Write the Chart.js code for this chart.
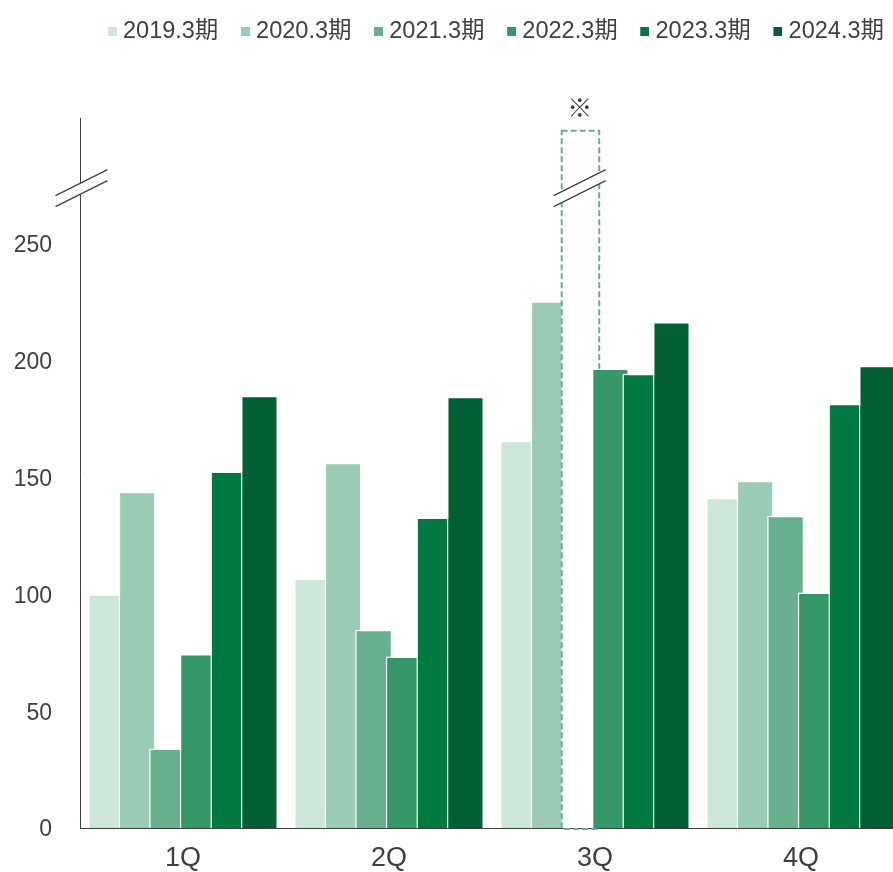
<!DOCTYPE html>
<html>
<head>
<meta charset="utf-8">
<script src="https://cdn.jsdelivr.net/npm/chart.js@4/dist/chart.umd.min.js"></script>
<style>
  html, body { margin: 0; padding: 0; overflow: hidden; background: #fff; }
</style>
</head>
<body>
<canvas id="grafica" width="904" height="872"></canvas>
<script>
// quarters
const quarters = ['1Q', '2Q', '3Q', '4Q'];

// one array per fiscal year
const fy2019 = [100.1, 106.8, 165.8, 141.4];
const fy2020 = [144, 156.4, 225.5, 148.7];
const fy2021 = [34, 84.9, 299, 133.7];   // 3Q is off the scale (broken bar)
const fy2022 = [74.5, 73.4, 196.7, 100.8];
const fy2023 = [152.6, 132.9, 194.5, 181.7];
const fy2024 = [185.1, 184.7, 216.7, 197.9];

const seriesNames = ['2019.3期', '2020.3期', '2021.3期', '2022.3期', '2023.3期', '2024.3期'];
const seriesValues = [fy2019, fy2020, fy2021, fy2022, fy2023, fy2024];
const COLORS = ['#cde6da', '#9acbb4', '#66b08e', '#359668', '#007a41', '#005f33'];

const yTicks = [0, 50, 100, 150, 200, 250];
const yMax = 304;
const breakValue = 274;
const brokenSeries = 2;   // 2021.3期
const brokenIndex = 2;    // 3Q

const TEXT = '#404040';
const FONT = "'Liberation Sans', 'Noto Sans CJK JP', sans-serif";

let datasets = seriesValues.map(function(vals, i){
	let bg = vals.map(function(v, j){
		return (i === brokenSeries && j === brokenIndex) ? '#ffffff' : COLORS[i];
	});
	return {
		label: seriesNames[i],
		data: vals,
		backgroundColor: bg,
		borderColor: '#ffffff',
		borderWidth: 1.5,
		categoryPercentage: 0.891,
		barPercentage: 1.21
	};
});

// legend square, drawn at the right end of a wider transparent canvas
function legendIcon(color){
	let c = document.createElement('canvas');
	c.width = 17;
	c.height = 9;
	let g = c.getContext('2d');
	g.fillStyle = color;
	g.fillRect(8, 0, 9, 9);
	return c;
}

// small double-slash used for the axis break
function drawBreak(ctx, cx, cy){
	let dx = 26, dy = 13, gap = 5.5;
	ctx.save();
	ctx.fillStyle = '#ffffff';
	ctx.beginPath();
	ctx.moveTo(cx - dx, cy + dy - gap);
	ctx.lineTo(cx + dx, cy - dy - gap);
	ctx.lineTo(cx + dx, cy - dy + gap);
	ctx.lineTo(cx - dx, cy + dy + gap);
	ctx.closePath();
	ctx.fill();
	ctx.strokeStyle = TEXT;
	ctx.lineWidth = 1.3;
	ctx.beginPath();
	ctx.moveTo(cx - dx, cy + dy - gap);
	ctx.lineTo(cx + dx, cy - dy - gap);
	ctx.moveTo(cx - dx, cy + dy + gap);
	ctx.lineTo(cx + dx, cy - dy + gap);
	ctx.stroke();
	ctx.restore();
}

function drawDashedBar(chart, meta){
	let el = meta.data[brokenIndex];
	let ctx = chart.ctx;
	ctx.save();
	ctx.setLineDash([6, 3]);
	ctx.strokeStyle = COLORS[brokenSeries];
	ctx.lineWidth = 2;
	ctx.strokeRect(el.x - el.width / 2 + 0.5, el.y + 1, el.width + 0.5, el.base - el.y);
	ctx.restore();
}

const drawOrder = {
	id: 'drawOrder',
	beforeLayout: function(chart){
		if (chart.legend && !chart.legend._patched) {
			let fit = chart.legend.fit;
			chart.legend.fit = function(){
				fit.call(this);
				this.height = 118;
			};
			chart.legend._patched = true;
		}
	},
	beforeDatasetsDraw: function(chart){
		let ctx = chart.ctx;
		// draw left to right so later years sit on top of earlier ones
		chart.getSortedVisibleDatasetMetas().forEach(function(meta){
			meta.controller.draw();
			if (meta.index === brokenSeries) drawDashedBar(chart, meta);
		});
		let y = chart.scales.y;
		let by = y.getPixelForValue(breakValue);
		drawBreak(ctx, y.right + 1.5, by);
		let el = chart.getDatasetMeta(brokenSeries).data[brokenIndex];
		drawBreak(ctx, el.x, by);
		ctx.save();
		ctx.fillStyle = TEXT;
		ctx.font = "25px 'Noto Sans CJK JP', sans-serif";
		ctx.textAlign = 'center';
		ctx.textBaseline = 'middle';
		ctx.fillText('※', el.x, el.y - 22);
		ctx.restore();
		return false;
	}
};

const ctx = document.getElementById('grafica').getContext('2d');
const myChart = new Chart(ctx, {
	type: 'bar',
	data: {
		labels: quarters,
		datasets: datasets
	},
	options: {
		responsive: false,
		animation: false,
		layout: { padding: 0 },
		plugins: {
			tooltip: { enabled: false },
			legend: {
				position: 'top',
				align: 'end',
				labels: {
					usePointStyle: true,
					boxWidth: 6,
					boxHeight: 9,
					padding: 20,
					color: TEXT,
					font: { family: FONT, size: 23.5 },
					generateLabels: function(chart){
						let items = Chart.defaults.plugins.legend.labels.generateLabels(chart);
						return items.map(function(item){
							item.pointStyle = legendIcon(COLORS[item.datasetIndex]);
							item.lineWidth = 0;
							return item;
						});
					}
				}
			}
		},
		scales: {
			x: {
				grid: { display: false, drawTicks: false },
				border: { display: true, color: TEXT, width: 1 },
				ticks: {
					color: TEXT,
					padding: 14,
					font: { family: FONT, size: 27 }
				},
				afterFit: function(s){ s.height = 44; }
			},
			y: {
				min: 0,
				max: yMax,
				grid: { display: false, drawTicks: false },
				border: { display: true, color: TEXT, width: 1 },
				ticks: {
					stepSize: 50,
					color: TEXT,
					padding: 28,
					labelOffset: 2,
					font: { family: FONT, size: 23 }
				},
				afterBuildTicks: function(s){
					s.ticks = yTicks.map(function(v){ return { value: v }; });
				},
				afterFit: function(s){ s.width = 80; }
			}
		}
	},
	plugins: [drawOrder]
});
</script>
</body>
</html>
